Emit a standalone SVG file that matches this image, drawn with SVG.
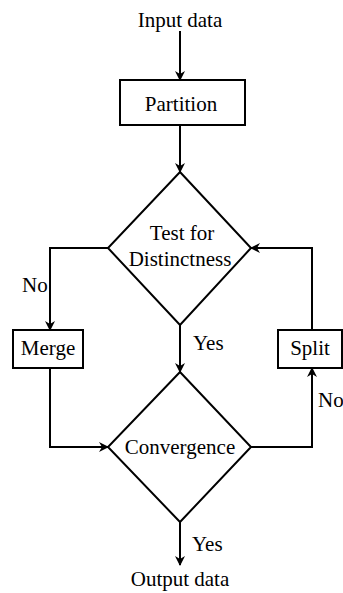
<svg xmlns="http://www.w3.org/2000/svg" width="343" height="593" viewBox="0 0 343 593">
<defs>
<style>
.n{fill:#fff;stroke:#000;stroke-width:2}
.c{fill:none;stroke:#000;stroke-width:2}
text{font-family:"Liberation Serif","Times New Roman",serif;font-size:21px;fill:#000}
.m{text-anchor:middle}
</style>
<marker id="a" viewBox="0 0 10 10" refX="9" refY="5" markerWidth="5" markerHeight="5" orient="auto" markerUnits="strokeWidth">
<path d="M0,0 L10,5 L0,10 L3,5 Z" fill="#000"/>
</marker>
</defs>
<rect width="343" height="593" fill="#fff"/>
<g id="connectors">
<line class="c" x1="180" y1="31" x2="180" y2="80" marker-end="url(#a)"/>
<line class="c" x1="180" y1="125" x2="180" y2="172" marker-end="url(#a)"/>
<polyline class="c" points="108,248 50,248 50,330" marker-end="url(#a)"/>
<polyline class="c" points="50,368 50,447 108,447" marker-end="url(#a)"/>
<line class="c" x1="180" y1="325" x2="180" y2="372" marker-end="url(#a)"/>
<polyline class="c" points="251,447 312,447 312,368" marker-end="url(#a)"/>
<polyline class="c" points="312,330 312,248 251,248" marker-end="url(#a)"/>
<line class="c" x1="180" y1="522" x2="180" y2="565" marker-end="url(#a)"/>
</g>
<g id="input"><text class="m" x="180" y="27">Input data</text></g>
<g id="partition"><rect class="n" x="120" y="80" width="125" height="45"/><text class="m" x="181" y="111">Partition</text></g>
<g id="test"><polygon class="n" points="180,172 251,248 180,325 108,248"/><text class="m" x="182" y="240">Test for</text><text class="m" x="180" y="266">Distinctness</text></g>
<g id="merge"><rect class="n" x="13" y="330" width="70" height="38"/><text class="m" x="48" y="355">Merge</text></g>
<g id="split"><rect class="n" x="278" y="330" width="64" height="38"/><text class="m" x="310" y="355">Split</text></g>
<g id="convergence"><polygon class="n" points="180,372 251,447 180,522 108,447"/><text class="m" x="180" y="454">Convergence</text></g>
<g id="output"><text class="m" x="180" y="586">Output data</text></g>
<g id="labels">
<text x="22" y="292">No</text>
<text x="318" y="407">No</text>
<text x="193" y="350">Yes</text>
<text x="192" y="551">Yes</text>
</g>
</svg>
